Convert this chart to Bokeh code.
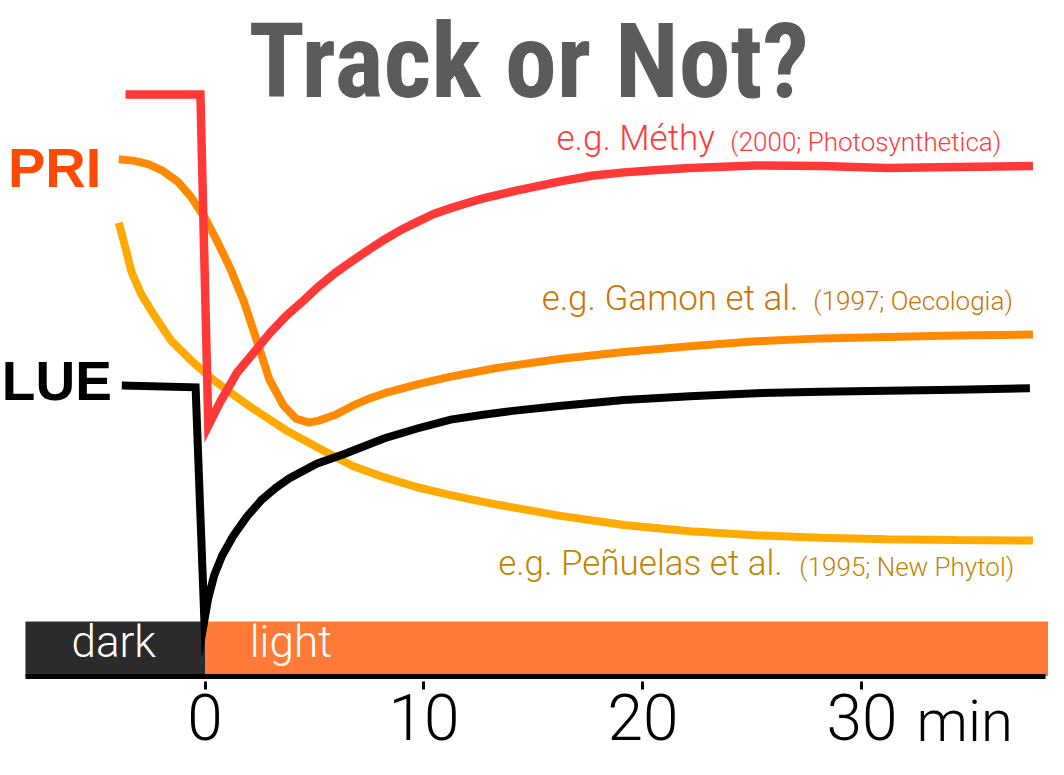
from bokeh.plotting import figure
from bokeh.models import Range1d, LinearAxis, FixedTicker
from bokeh.core.properties import value
from bokeh.embed import file_html
from bokeh.resources import INLINE

# time axis (minutes) and light phases
tick_minutes = [0, 10, 20, 30]
phase_names = ["dark", "light"]
phase_start = [-8.2, 0.0]
phase_end = [0.0, 38.6]

# PRI response, Methy (2000)
methy_t = [-3.63, -0.21, 0.15, 0.69, 1.46, 2.21, 2.94, 3.71, 4.47, 5.19, 5.96, 6.72, 7.44, 8.20,
           8.97, 9.69, 10.45, 11.22, 11.94, 12.70, 14.05, 16.17, 17.65, 19.13, 20.66, 22.15,
           25.16, 28.13, 31.15, 34.30, 37.81]
methy_y = [594, 594, 256, 280, 310, 330, 350, 368, 383, 398, 412, 424, 435, 446,
           456, 464, 472, 478, 483, 488, 495, 505, 511, 514.5, 517, 519,
           521.5, 521, 519, 520, 521]

# PRI response, Gamon et al. (1997)
gamon_t = [-3.94, -3.27, -2.59, -1.92, -1.24, -0.66, -0.03, 0.56, 1.14, 1.77, 2.36, 2.94, 3.57,
           4.16, 4.74, 5.19, 5.96, 6.72, 7.44, 8.20, 9.69, 11.22, 13.38, 16.17, 19.13, 22.15,
           25.16, 28.13, 31.15, 34.30, 37.81]
gamon_y = [528, 526.5, 523, 516, 505, 490, 469, 444, 417, 383, 343, 303, 277,
           263, 259, 261, 267, 276, 283, 289, 298, 306, 315, 324, 331, 337,
           342, 345, 346.5, 348, 349]

# PRI response, Penuelas et al. (1995)
penuelas_t = [-3.94, -3.63, -3.36, -2.91, -2.28, -1.56, -0.66, 0.24, 1.14, 2.21, 3.71, 5.19,
              6.72, 8.20, 9.69, 11.22, 13.15, 16.17, 19.13, 22.15, 25.16, 28.13, 31.15, 34.30, 37.81]
penuelas_y = [463, 437, 413, 390, 367, 343, 323, 305, 290, 273, 251, 233,
              215, 203, 193, 185, 176, 164, 154.5, 148, 144, 141.5, 140, 139, 138.5]

# LUE
lue_t = [-3.80, -0.43, -0.03, 0.15, 0.42, 0.78, 1.28, 1.91, 2.58, 3.21, 3.84, 5.10, 6.36,
         8.20, 9.69, 11.22, 12.70, 14.05, 16.17, 19.13, 22.15, 25.16, 28.13, 31.15, 34.30, 37.67]
lue_y = [297, 295, 57, 80, 103, 123, 143, 163, 180, 192, 202, 217, 227,
         243, 253, 262, 267, 271, 276, 282, 286, 289, 290.5, 291.5, 292.5, 294]

THIN = "'Roboto Light', Roboto, sans-serif"
BOLD = "'Liberation Sans', Arial, sans-serif"
TITLE = "Impact, 'Roboto Condensed', 'Liberation Sans Narrow', 'DejaVu Sans Condensed', sans-serif"

p = figure(width=1048, height=759,
           x_range=Range1d(-9.34, 38.52), y_range=Range1d(-85, 690),
           x_axis_location=None, y_axis_location=None,
           toolbar_location=None, output_backend="svg", min_border=0)
p.outline_line_color = None
p.grid.grid_line_color = None

# dark / light bar
p.quad(left=phase_start, right=phase_end, bottom=0, top=56,
       fill_color=["#2b2b2b", "#ff7a36"], line_color=None)
p.text(x=[-6.1, 2.04], y=[35, 35], text=phase_names, text_color="white",
       text_font=value(THIN), text_font_size=value("44px"), text_baseline="alphabetic")

# curves
p.line(penuelas_t, penuelas_y, line_color="#ffaa00", line_width=8)
p.line(lue_t, lue_y, line_color="black", line_width=8, line_join="miter")
p.line(gamon_t, gamon_y, line_color="#ff8a00", line_width=8)
p.line(methy_t, methy_y, line_color="#ff3838", line_width=8.5, line_join="miter")

# time axis
xaxis = LinearAxis(fixed_location=0, ticker=FixedTicker(ticks=tick_minutes), bounds=(-8.21, 38.39))
xaxis.axis_line_width = 5
xaxis.axis_line_cap = "butt"
xaxis.major_tick_in = -5
xaxis.major_tick_out = 13
xaxis.major_tick_line_width = 3
xaxis.minor_tick_line_color = None
xaxis.major_label_text_font = THIN
xaxis.major_label_text_font_size = "64px"
xaxis.major_label_text_color = "black"
xaxis.major_label_standoff = 5
p.add_layout(xaxis, "below")
p.text(x=[32.49], y=[-46], text=["min"], text_font=value(THIN), text_font_size=value("58px"),
       text_color="black", text_baseline="alphabetic")

# labels
p.text(x=[14.78], y=[628], text=["Track or Not?"], text_align="center", text_baseline="alphabetic",
       text_font=value(TITLE), text_font_style="bold", text_font_size=value("104px"),
       text_color="#5b5b5b")
p.text(x=[-9.0], y=[519], text=["PRI"], text_font=value(BOLD), text_font_style="bold",
       text_font_size=value("56px"), text_color="#ff4a00", text_baseline="alphabetic")
p.text(x=[-9.28], y=[301], text=["LUE"], text_font=value(BOLD), text_font_style="bold",
       text_font_size=value("55px"), text_color="black", text_baseline="alphabetic")

refs = [("e.g. Méthy", "(2000; Photosynthetica)", 23.28, 23.99, 536, "#ff3a3a"),
        ("e.g. Gamon et al.", "(1997; Oecologia)", 27.10, 27.78, 373, "#cc7308"),
        ("e.g. Peñuelas et al.", "(1995; New Phytol)", 26.38, 27.14, 102, "#bf8500")]
for big, small, xb, xs, yb, col in refs:
    p.text(x=[xb], y=[yb + 13], text=[big], text_align="right", text_baseline="alphabetic",
           text_font=value(THIN), text_font_size=value("35px"), text_color=col)
    p.text(x=[xs], y=[yb + 10], text=[small], text_align="left", text_baseline="alphabetic",
           text_font=value(THIN), text_font_size=value("26px"), text_color=col)

open("out.html", "w").write(file_html(p, INLINE))
